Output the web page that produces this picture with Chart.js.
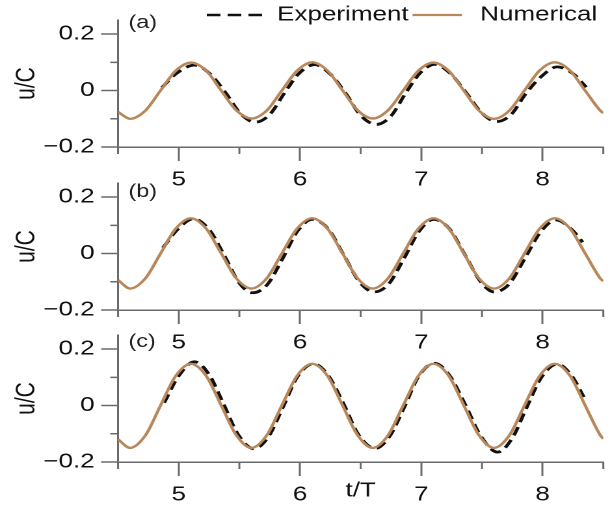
<!DOCTYPE html>
<html>
<head>
<meta charset="utf-8">
<script src="https://cdn.jsdelivr.net/npm/chart.js@4/dist/chart.umd.min.js"></script>
<style>
  html, body { margin: 0; padding: 0; background: #fff; }
  #wrap { position: relative; width: 610px; height: 506px; overflow: hidden; }
  #wrap canvas { position: absolute; left: 0; }
</style>
</head>
<body>
<div id="wrap">
  <canvas id="panelA"></canvas>
  <canvas id="panelB"></canvas>
  <canvas id="panelC"></canvas>
</div>
<script>
// --- data (t/T, u/C) ---
const xTicks = [5, 6, 7, 8];
const xMinor = [4.5, 5.5, 6.5, 7.5, 8.5];
const yTicks = [-0.2, 0, 0.2];
const yMinor = [-0.1, 0.1];

// numerical curves share one time base
const numT = [4.5, 4.6, 4.725, 4.85, 4.975, 5.1, 5.225, 5.35, 5.475, 5.6, 5.725, 5.85, 5.975,
  6.1, 6.225, 6.35, 6.475, 6.6, 6.725, 6.85, 6.975, 7.1, 7.225, 7.35, 7.475, 7.6, 7.725,
  7.85, 7.975, 8.1, 8.225, 8.35, 8.475, 8.5];

const numA = [-0.076, -0.100, -0.071, 0.000, 0.070, 0.099, 0.071, 0.000, -0.070, -0.099, -0.071, 0.000, 0.070,
  0.100, 0.071, 0.001, -0.070, -0.099, -0.070, 0.000, 0.070, 0.099, 0.070, 0.000, -0.071, -0.100, -0.071,
  0.000, 0.071, 0.100, 0.071, 0.000, -0.071, -0.080];
const numB = [-0.094, -0.124, -0.088, 0.000, 0.088, 0.125, 0.089, 0.001, -0.088, -0.124, -0.088, 0.000, 0.088,
  0.125, 0.089, 0.001, -0.088, -0.124, -0.088, 0.000, 0.088, 0.125, 0.089, 0.001, -0.088, -0.124, -0.088,
  0.000, 0.088, 0.125, 0.089, 0.001, -0.088, -0.098];
const numC = [-0.120, -0.150, -0.106, 0.000, 0.105, 0.148, 0.106, 0.001, -0.105, -0.150, -0.106, 0.000, 0.105,
  0.148, 0.106, 0.001, -0.105, -0.150, -0.106, 0.000, 0.105, 0.148, 0.106, 0.001, -0.105, -0.150, -0.106,
  0.000, 0.105, 0.148, 0.106, 0.001, -0.105, -0.118];

// experiment curves
const expTA = [4.86, 4.985, 5.13, 5.26, 5.39, 5.51, 5.63, 5.75, 5.87, 5.99, 6.12, 6.25, 6.38, 6.5, 6.63,
  6.75, 6.87, 6.99, 7.11, 7.24, 7.37, 7.5, 7.62, 7.74, 7.86, 7.99, 8.12, 8.25, 8.36];
const expA = [0.010, 0.062, 0.090, 0.058, -0.010, -0.082, -0.112, -0.085, -0.010, 0.060, 0.092, 0.058, -0.012, -0.088, -0.120,
  -0.090, -0.010, 0.062, 0.093, 0.060, -0.008, -0.080, -0.110, -0.085, -0.012, 0.050, 0.084, 0.060, 0.012];

const expTB = [4.87, 4.99, 5.12, 5.25, 5.38, 5.5, 5.61, 5.73, 5.86, 5.98, 6.1, 6.23, 6.36, 6.49, 6.61,
  6.73, 6.86, 6.98, 7.1, 7.23, 7.36, 7.49, 7.6, 7.72, 7.85, 7.98, 8.11, 8.24, 8.33];
const expB = [0.020, 0.085, 0.123, 0.085, -0.010, -0.105, -0.139, -0.110, -0.015, 0.080, 0.121, 0.088, -0.005, -0.100, -0.136,
  -0.108, -0.015, 0.078, 0.121, 0.088, -0.005, -0.100, -0.136, -0.110, -0.020, 0.075, 0.119, 0.085, 0.040];

const expTC = [4.88, 5.0, 5.13, 5.25, 5.37, 5.49, 5.62, 5.74, 5.86, 5.98, 6.11, 6.23, 6.36, 6.48, 6.62,
  6.74, 6.86, 6.98, 7.11, 7.23, 7.36, 7.49, 7.63, 7.75, 7.87, 7.99, 8.12, 8.24, 8.34];
const expC = [0.010, 0.105, 0.155, 0.110, 0.005, -0.103, -0.153, -0.110, -0.005, 0.103, 0.148, 0.108, 0.005, -0.102, -0.152,
  -0.108, -0.005, 0.105, 0.150, 0.108, 0.005, -0.108, -0.165, -0.115, -0.005, 0.100, 0.147, 0.105, 0.030];

// --- look ---
const STRETCH = 1.3;                 // the figure is drawn wider than tall
const LOGICAL_W = Math.round(610 / STRETCH);
const FONT = '"Liberation Sans", Arial, Helvetica, sans-serif';
const AXIS = '#6b6b6b';
const NUM_COLOR = '#b8875a';
const EXP_COLOR = '#111111';

const toPoints = (ts, vs) => ts.map((t, i) => ({ x: t, y: vs[i] }));

const fmtY = v => v === 0 ? '0' : (v < 0 ? '\u2212' : '') + Math.abs(v).toFixed(1);

// minor ticks, panel tag and (first panel only) the legend
const decor = {
  id: 'decor',
  afterDraw(chart, args, opts) {
    const { ctx, chartArea: a, scales: { x, y } } = chart;
    ctx.save();
    ctx.strokeStyle = AXIS;
    ctx.lineWidth = 1.5;
    ctx.beginPath();
    xMinor.forEach(v => {
      const px = x.getPixelForValue(v);
      ctx.moveTo(px, a.bottom);
      ctx.lineTo(px, a.bottom + 7);
    });
    yMinor.forEach(v => {
      const py = y.getPixelForValue(v);
      ctx.moveTo(a.left, py);
      ctx.lineTo(a.left - 6, py);
    });
    ctx.stroke();

    ctx.fillStyle = '#222';
    ctx.font = '18px ' + FONT;
    ctx.textBaseline = 'middle';
    ctx.textAlign = 'left';
    ctx.fillText(opts.tag, a.left + 8, a.top + opts.tagDy);

    if (opts.legend) {
      const ly = 15;
      ctx.font = '20px ' + FONT;
      ctx.fillStyle = '#111';
      let lx = 159;
      ctx.strokeStyle = EXP_COLOR;
      ctx.lineWidth = 2.6;
      ctx.setLineDash([10.5, 5.5]);
      ctx.beginPath(); ctx.moveTo(lx, ly); ctx.lineTo(lx + 43, ly); ctx.stroke();
      ctx.setLineDash([]);
      lx += 54;
      ctx.fillText('Experiment', lx, ly);
      lx += ctx.measureText('Experiment').width + 3;
      ctx.strokeStyle = NUM_COLOR;
      ctx.lineWidth = 2.2;
      ctx.beginPath(); ctx.moveTo(lx, ly); ctx.lineTo(lx + 38, ly); ctx.stroke();
      lx += 52;
      ctx.fillText('Numerical', lx, ly);
    }
    ctx.restore();
  }
};

function makePanel(id, top, height, num, expT, exp, tag, tagDy, isLast) {
  const canvas = document.getElementById(id);
  canvas.width = LOGICAL_W;
  canvas.height = height;
  canvas.style.width = '610px';
  canvas.style.height = height + 'px';
  canvas.style.top = top + 'px';

  const padTop = 20;
  const plotH = 127;

  return new Chart(canvas, {
    type: 'line',
    data: {
      datasets: [
        {
          label: 'Numerical',
          data: toPoints(numT, num),
          borderColor: NUM_COLOR,
          borderWidth: 2.4,
          pointRadius: 0,
          cubicInterpolationMode: 'monotone'
        },
        {
          label: 'Experiment',
          data: toPoints(expT, exp),
          borderColor: EXP_COLOR,
          borderWidth: 2.8,
          borderDash: [9, 5],
          pointRadius: 0,
          cubicInterpolationMode: 'monotone'
        }
      ]
    },
    options: {
      responsive: false,
      animation: false,
      devicePixelRatio: 2,
      events: [],
      layout: { padding: { top: padTop, right: LOGICAL_W - 603 / STRETCH, bottom: 0, left: 0 } },
      plugins: {
        legend: { display: false },
        tooltip: { enabled: false },
        decor: { tag, tagDy, legend: id === 'panelA' }
      },
      scales: {
        x: {
          type: 'linear',
          min: 4.5,
          max: 8.5,
          afterBuildTicks: s => { s.ticks = xTicks.map(v => ({ value: v })); },
          afterFit: s => { s.height = height - padTop - plotH; },
          border: { display: true, color: AXIS, width: 1.5 },
          grid: { drawOnChartArea: false, drawTicks: true, tickLength: 14, tickColor: AXIS, tickWidth: 1.5 },
          ticks: { color: '#111', font: { family: FONT, size: 20 }, padding: 7, autoSkip: false, maxRotation: 0 },
          title: {
            display: isLast,
            text: 't/T',
            color: '#111',
            font: { family: FONT, size: 20 },
            padding: { top: 0, bottom: 3 }
          }
        },
        y: {
          min: -0.2,
          max: 0.25,
          afterBuildTicks: s => { s.ticks = yTicks.map(v => ({ value: v })); },
          afterFit: s => { s.width = 118 / STRETCH; },
          border: { display: true, color: AXIS, width: 1.5 },
          grid: { drawOnChartArea: false, drawTicks: true, tickLength: 13, tickColor: AXIS, tickWidth: 1.5 },
          ticks: { color: '#111', font: { family: FONT, size: 20 }, padding: 5, callback: fmtY },
          title: {
            display: true,
            text: 'u/C',
            color: '#111',
            font: { family: FONT, size: 21 },
            padding: { top: 8, bottom: 0 }
          }
        }
      }
    },
    plugins: [decor]
  });
}

makePanel('panelA', 0, 192, numA, expTA, expA, '(a)', 3, false);
makePanel('panelB', 163, 192, numB, expTB, expB, '(b)', 9, false);
makePanel('panelC', 315, 191, numC, expTC, expC, '(c)', 7, true);
</script>
</body>
</html>
